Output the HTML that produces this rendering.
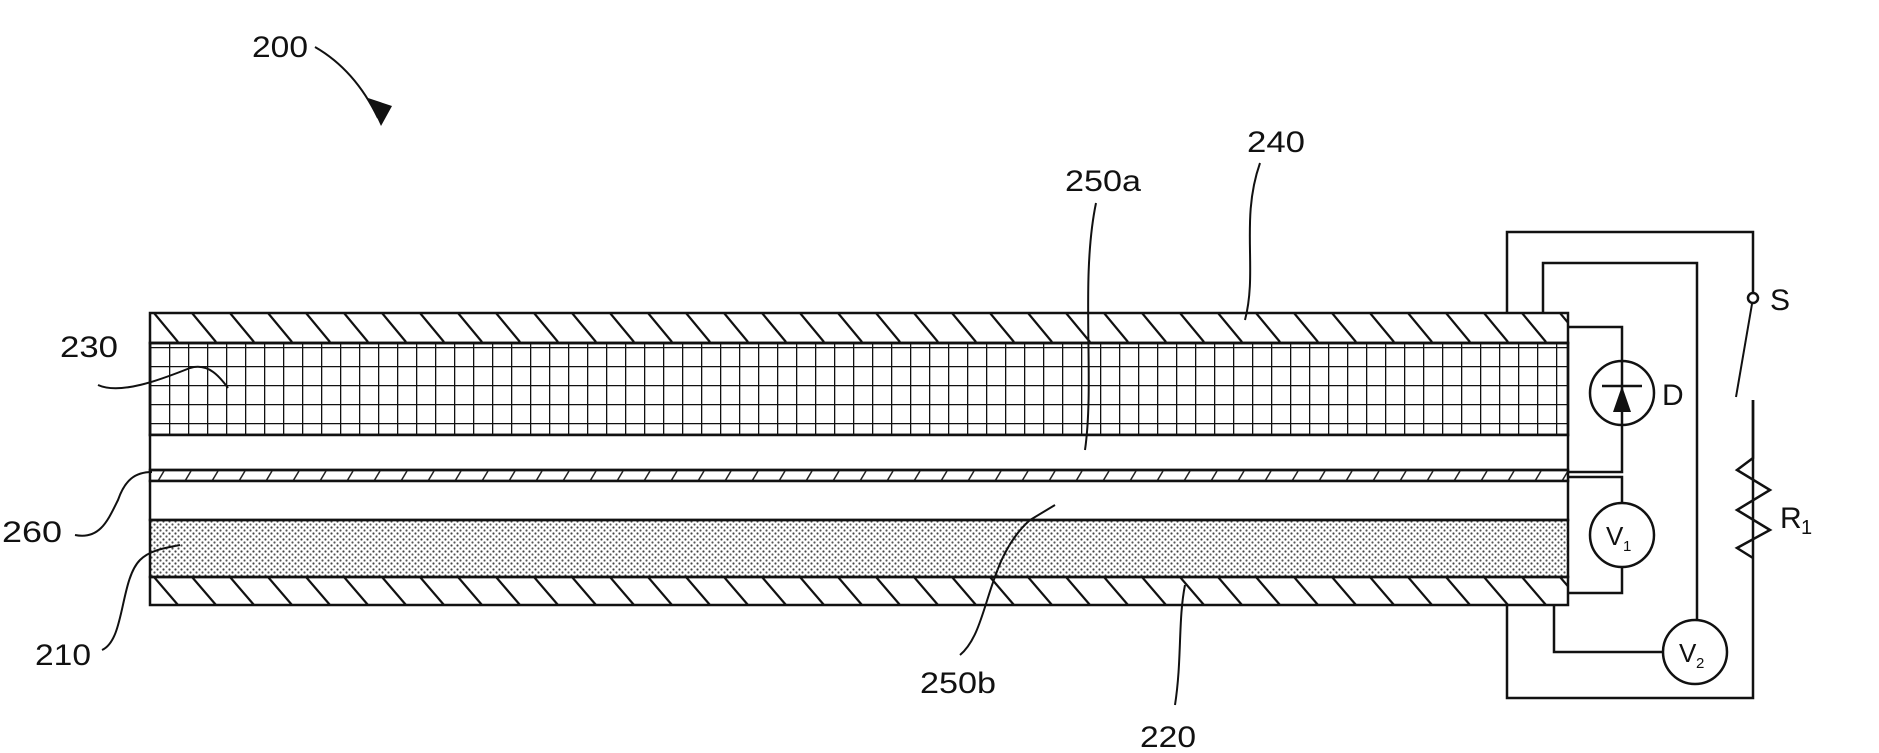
<!DOCTYPE html>
<html><head><meta charset="utf-8"><style>
html,body{margin:0;padding:0;background:#fff;}
svg{display:block;}
text{font-family:"Liberation Sans",sans-serif;font-size:30px;fill:#111;}
</style></head><body>
<svg width="1879" height="753" viewBox="0 0 1879 753" xmlns="http://www.w3.org/2000/svg">
<defs>
<pattern id="hatch" x="150" y="313" width="38" height="29" patternUnits="userSpaceOnUse">
<line x1="4" y1="0" x2="28" y2="29" stroke="#111" stroke-width="2.2"/>
<line x1="-34" y1="0" x2="-10" y2="29" stroke="#111" stroke-width="2.2"/>
<line x1="42" y1="0" x2="66" y2="29" stroke="#111" stroke-width="2.2"/>
</pattern>
<pattern id="hatch2" x="150" y="577" width="38" height="28" patternUnits="userSpaceOnUse">
<line x1="4" y1="0" x2="28" y2="28" stroke="#111" stroke-width="2.2"/>
<line x1="-34" y1="0" x2="-10" y2="28" stroke="#111" stroke-width="2.2"/>
<line x1="42" y1="0" x2="66" y2="28" stroke="#111" stroke-width="2.2"/>
</pattern>
<pattern id="grid" x="150" y="347" width="19" height="19" patternUnits="userSpaceOnUse">
<line x1="0" y1="0" x2="19" y2="0" stroke="#111" stroke-width="2.6"/>
<line x1="0" y1="0" x2="0" y2="19" stroke="#111" stroke-width="2.6"/>
</pattern>
<pattern id="thin" x="150" y="470" width="27" height="11" patternUnits="userSpaceOnUse">
<line x1="8" y1="11" x2="14" y2="1" stroke="#222" stroke-width="1.5"/>
</pattern>
<pattern id="dots" x="150" y="520" width="6" height="6" patternUnits="userSpaceOnUse">
<circle cx="1.5" cy="1.5" r="1.1" fill="#444"/>
<circle cx="4.5" cy="4.5" r="1.1" fill="#555"/>
</pattern>
</defs>

<g stroke="#111" stroke-width="2.5">
<rect x="150" y="313" width="1418" height="30" fill="url(#hatch)"/>
<rect x="150" y="343" width="1418" height="92" fill="url(#grid)"/>
<rect x="150" y="343" width="1418" height="92" fill="none"/>
<rect x="150" y="435" width="1418" height="35" fill="#fff"/>
<rect x="150" y="470" width="1418" height="11" fill="url(#thin)"/>
<rect x="150" y="481" width="1418" height="39" fill="#fff"/>
<rect x="150" y="520" width="1418" height="57" fill="url(#dots)"/>
<rect x="150" y="577" width="1418" height="28" fill="url(#hatch2)"/>
</g>

<g stroke="#111" stroke-width="2.5" fill="none">
<polyline points="1507,313 1507,232 1753,232 1753,293"/>
<polyline points="1507,605 1507,698 1753,698 1753,400"/>
<circle cx="1753" cy="298" r="5" fill="#fff"/>
<line x1="1752" y1="304" x2="1736" y2="397" stroke-width="2"/>
<polyline points="1753,400 1753,458 1737,470 1770,490 1737,510 1770,530 1737,548 1753,558"/>
<polyline points="1543,313 1543,263 1697,263 1697,620"/>
<circle cx="1695" cy="652" r="32" fill="#fff"/>
<polyline points="1663,652 1554,652 1554,605"/>
<polyline points="1568,327 1622,327 1622,361"/>
<circle cx="1622" cy="393" r="32" fill="#fff"/>
<line x1="1602" y1="386" x2="1642" y2="386"/>
<polyline points="1622,425 1622,472 1568,472"/>
<polyline points="1568,477 1622,477 1622,503"/>
<circle cx="1622" cy="535" r="32" fill="#fff"/>
<polyline points="1622,567 1622,593 1568,593"/>
</g>
<line x1="1622" y1="361" x2="1622" y2="425" stroke="#111" stroke-width="2.5"/>
<polygon points="1622,386 1613,412 1631,412" fill="#111"/>

<g stroke="#111" stroke-width="2" fill="none">
<path d="M315,47 Q355,70 378,118"/>
<path d="M1260,163 C1240,220 1258,270 1245,320"/>
<path d="M1096,203 C1080,280 1095,380 1085,450"/>
<path d="M98,385 C120,395 160,380 190,368 C210,362 222,380 228,388"/>
<path d="M75,535 C100,540 108,520 118,500 C125,480 135,472 152,472"/>
<path d="M102,650 C125,640 120,580 140,560 C150,550 165,548 180,545"/>
<path d="M960,655 C990,630 985,560 1030,520 L1055,505"/>
<path d="M1175,705 C1182,660 1178,620 1185,585"/>
</g>
<polygon points="368,98 392,106 381,126" fill="#111"/>

<text x="252" y="57" textLength="56" lengthAdjust="spacingAndGlyphs">200</text>
<text x="1247" y="152" textLength="58" lengthAdjust="spacingAndGlyphs">240</text>
<text x="1065" y="191" textLength="76" lengthAdjust="spacingAndGlyphs">250a</text>
<text x="60" y="357" textLength="58" lengthAdjust="spacingAndGlyphs">230</text>
<text x="2" y="542" textLength="60" lengthAdjust="spacingAndGlyphs">260</text>
<text x="35" y="665" textLength="56" lengthAdjust="spacingAndGlyphs">210</text>
<text x="920" y="693" textLength="76" lengthAdjust="spacingAndGlyphs">250b</text>
<text x="1140" y="747" textLength="56" lengthAdjust="spacingAndGlyphs">220</text>
<text x="1662" y="405">D</text>
<text x="1770" y="310">S</text>
<text x="1780" y="528">R</text>
<text x="1801" y="534" style="font-size:20px">1</text>
<text x="1606" y="545" style="font-size:26px">V</text>
<text x="1623" y="551" style="font-size:15px">1</text>
<text x="1679" y="662" style="font-size:26px">V</text>
<text x="1696" y="668" style="font-size:15px">2</text>
</svg>
</body></html>
